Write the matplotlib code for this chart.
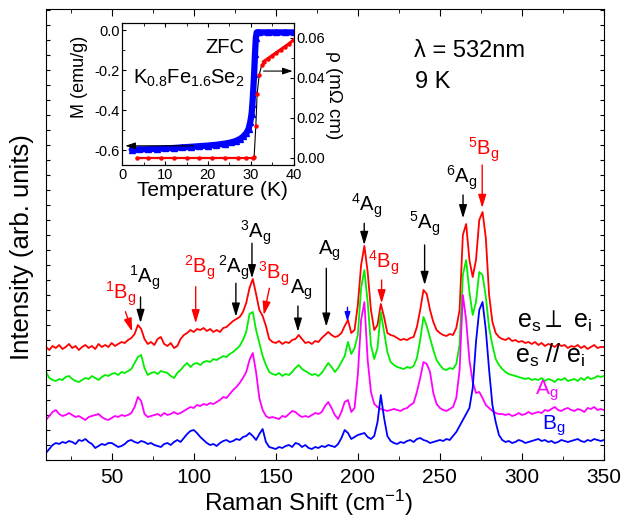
import numpy as np
import matplotlib
matplotlib.use("Agg")
import matplotlib.pyplot as plt
from matplotlib.ticker import MultipleLocator

plt.rcParams['font.family'] = ['Liberation Sans', 'DejaVu Sans']
plt.rcParams['mathtext.fontset'] = 'custom'
plt.rcParams['mathtext.rm'] = 'Liberation Sans'
plt.rcParams['mathtext.it'] = 'Liberation Sans'
plt.rcParams['mathtext.sf'] = 'DejaVu Sans'
plt.rcParams['mathtext.default'] = 'regular'
plt.rcParams['mathtext.fallback'] = 'stixsans'

# ---------------- main Raman spectra data ----------------
raman_shift = list(range(10, 351, 2))  # cm^-1

perp = [113, 110, 114, 112, 115, 111, 113, 116, 112, 114,
        110, 113, 115, 112, 114, 111, 116, 113, 115, 113,
        117, 114, 116, 118, 117, 120, 122, 126, 135, 131,
        121, 116, 118, 115, 121, 123, 116, 114, 117, 112,
        114, 121, 125, 127, 130, 128, 131, 130, 132, 129,
        131, 128, 130, 128, 132, 133, 136, 139, 141, 143,
        148, 157, 172, 181, 166, 150, 144, 134, 121, 118,
        117, 119, 116, 118, 117, 120, 121, 125, 121, 117,
        118, 116, 119, 118, 122, 125, 128, 125, 123, 124,
        127, 134, 140, 127, 130, 155, 195, 214, 188, 150,
        130, 135, 156, 143, 127, 125, 124, 122, 120, 121,
        120, 122, 123, 133, 150, 170, 166, 150, 138, 130,
        127, 125, 124, 126, 125, 132, 150, 225, 236, 200,
        183, 200, 240, 248, 222, 165, 138, 127, 123, 121,
        120, 122, 119, 120, 118, 119, 117, 118, 116, 118,
        115, 117, 114, 116, 115, 113, 116, 114, 115, 112,
        114, 113, 115, 112, 114, 111, 113, 115, 112, 113,
        113]

para = [88, 82, 80, 79, 81, 80, 83, 84, 81, 79,
        78, 80, 82, 81, 84, 82, 80, 83, 85, 84,
        86, 87, 85, 88, 87, 89, 91, 97, 103, 105,
        92, 85, 87, 88, 86, 89, 88, 87, 84, 82,
        87, 90, 94, 97, 93, 96, 97, 95, 98, 99,
        98, 101, 100, 102, 104, 103, 106, 108, 111, 114,
        120, 128, 146, 148, 130, 117, 104, 95, 88, 86,
        85, 87, 84, 86, 85, 88, 92, 95, 91, 89,
        87, 85, 86, 84, 87, 92, 97, 93, 88, 92,
        98, 104, 118, 106, 112, 125, 172, 190, 158, 115,
        101, 112, 148, 128, 108, 98, 95, 93, 92, 91,
        93, 92, 94, 102, 120, 143, 134, 122, 110, 100,
        95, 91, 90, 92, 91, 96, 115, 185, 200, 168,
        145, 158, 188, 185, 163, 132, 115, 101, 95, 91,
        88, 86, 85, 84, 83, 82, 81, 82, 80, 81,
        80, 82, 79, 81, 80, 78, 81, 80, 82, 79,
        80, 81, 79, 82, 80, 83, 81, 82, 84, 83,
        84]

ag = [40, 44, 48, 50, 46, 44, 45, 47, 45, 43,
      44, 42, 40, 43, 44, 45, 46, 43, 41, 40,
      42, 44, 43, 45, 44, 45, 47, 53, 63, 59,
      46, 43, 44, 45, 46, 44, 47, 45, 46, 48,
      46, 47, 49, 51, 53, 52, 55, 54, 56, 55,
      57, 56, 58, 60, 63, 62, 66, 70, 73, 77,
      82, 88, 100, 107, 88, 62, 50, 44, 42, 43,
      42, 41, 44, 43, 46, 49, 48, 45, 43, 44,
      43, 45, 47, 46, 48, 54, 58, 52, 45, 41,
      48, 58, 60, 48, 52, 85, 140, 158, 100, 68,
      56, 53, 51, 50, 49, 50, 51, 50, 49, 51,
      52, 55, 57, 68, 82, 98, 96, 88, 67, 56,
      52, 50, 49, 51, 53, 62, 90, 165, 140, 100,
      78, 67, 68, 62, 55, 52, 49, 47, 46, 46,
      45, 46, 44, 45, 47, 45, 46, 48, 46, 47,
      48, 47, 50, 49, 51, 53, 50, 49, 51, 52,
      50, 49, 51, 50, 48, 52, 51, 53, 50, 51,
      50]

bg = [7, 11, 15, 17, 16, 18, 17, 19, 18, 16,
      20, 19, 21, 18, 16, 12, 14, 16, 15, 17,
      17, 15, 13, 14, 16, 19, 20, 18, 17, 19,
      18, 16, 17, 15, 14, 13, 16, 17, 15, 18,
      20, 18, 22, 26, 29, 30, 27, 23, 20, 17,
      15, 16, 14, 17, 19, 20, 18, 19, 21, 20,
      23, 24, 27, 24, 20, 26, 31, 18, 13, 12,
      11, 13, 12, 14, 15, 13, 17, 16, 13, 15,
      12, 11, 13, 12, 14, 13, 15, 14, 13, 16,
      22, 30, 27, 21, 23, 25, 26, 27, 23, 21,
      24, 38, 65, 42, 24, 19, 17, 16, 18, 17,
      19, 20, 18, 21, 22, 20, 19, 17, 18, 19,
      20, 19, 21, 20, 24, 28, 34, 40, 46, 52,
      72, 118, 150, 158, 130, 90, 55, 38, 25, 20,
      18, 19, 17, 18, 20, 19, 17, 18, 19, 20,
      21, 19, 20, 18, 19, 17, 18, 20, 19, 18,
      19, 20, 21, 19, 18, 20, 19, 21, 20, 19,
      20]

# ---------------- inset data ----------------
T_M = [2.2, 4, 6, 8, 10, 12, 14, 16, 18, 20, 22, 24, 25.5, 26.5, 27.5, 28.3, 29,
       29.5, 29.9, 30.2, 30.4, 30.6, 30.8, 31.0, 31.2, 31.4, 32, 34, 36, 38, 40]
M = [-0.598, -0.597, -0.596, -0.594, -0.592, -0.590, -0.587, -0.584, -0.581,
     -0.578, -0.574, -0.568, -0.562, -0.555, -0.545, -0.532, -0.515, -0.495,
     -0.46, -0.42, -0.37, -0.30, -0.22, -0.12, -0.04, -0.012, -0.012, -0.012,
     -0.012, -0.012, -0.012]

T_rho = [3.4, 6, 9, 12, 15, 18, 21, 24, 27, 29, 30.5, 30.8, 31.2, 31.5, 32.0,
         32.6, 33.0, 34, 35, 36, 37, 38, 39, 40]
rho = [0, 0, 0, 0, 0, 0, 0, 0, 0, 0, 0, 0.0005, 0.016, 0.032, 0.0415, 0.0465,
       0.048, 0.0495, 0.051, 0.0525, 0.054, 0.0555, 0.057, 0.0588]

# ---------------- figure ----------------
W, H = 621, 519
fig = plt.figure(figsize=(W / 100, H / 100), dpi=100)
ax = fig.add_axes([46 / W, 1 - 460 / H, 558 / W, 450.7 / H])

x = np.array(raman_shift)
ax.plot(x, perp, color='#ff0000', lw=1.3)
ax.plot(x, para, color='#00ee00', lw=1.3)
ax.plot(x, ag, color='#ff00ff', lw=1.3)
ax.plot(x, bg, color='#0000ff', lw=1.3)

ax.set_xlim(10, 350)
ax.set_ylim(0, 450.7)
ax.xaxis.set_major_locator(MultipleLocator(50))
ax.xaxis.set_minor_locator(MultipleLocator(25))
ax.yaxis.set_major_locator(MultipleLocator(15))
ax.tick_params(axis='both', which='both', direction='in', top=True, right=True)
ax.tick_params(axis='x', which='major', length=5, labelsize=15, pad=6)
ax.tick_params(axis='x', which='minor', length=3)
ax.tick_params(axis='y', which='major', length=3, labelleft=False)
ax.set_xticks([50, 100, 150, 200, 250, 300, 350])

fig.text(309 / W, 1 - 503 / H, 'Raman Shift (cm$^{-1}$)', fontsize=17.5,
         ha='center', va='center')
fig.text(22 / W, 1 - 247 / H, 'Intensity (arb. units)', fontsize=18.5,
         ha='center', va='center', rotation=90)

# peak labels
labels = [
    ('$^{1}$B$_{g}$', 55.3, 160, 'red'),
    ('$^{1}$A$_{g}$', 70.3, 176.7, 'black'),
    ('$^{2}$B$_{g}$', 103.7, 186.7, 'red'),
    ('$^{2}$A$_{g}$', 124.5, 186.7, 'black'),
    ('$^{3}$A$_{g}$', 137.7, 221.7, 'black'),
    ('$^{3}$B$_{g}$', 148.7, 180, 'red'),
    ('A$_{g}$', 165.5, 166, 'black'),
    ('A$_{g}$', 182.7, 205, 'black'),
    ('$^{4}$A$_{g}$', 205.6, 248.3, 'black'),
    ('$^{4}$B$_{g}$', 216.0, 191.7, 'red'),
    ('$^{5}$A$_{g}$', 240.6, 230, 'black'),
    ('$^{6}$A$_{g}$', 263.5, 276.7, 'black'),
    ('$^{5}$B$_{g}$', 276.4, 304, 'red'),
]
for s, lx, ly, c in labels:
    ax.text(lx, ly, s, color=c, fontsize=14.5, ha='center', va='baseline')

arrows = [
    ((58.4, 148.3), (62.5, 128.3), 'red', 0.8),
    ((67.6, 163), (67.6, 137), 'black', 0.8),
    ((101.2, 173.3), (101.2, 136.7), 'red', 0.8),
    ((125.7, 176.7), (125.7, 143.3), 'black', 0.8),
    ((135.5, 216.7), (135.5, 181.7), 'black', 0.8),
    ((146.1, 171.7), (142.7, 145), 'red', 0.8),
    ((163.5, 154), (163.5, 128.3), 'black', 0.8),
    ((180.8, 191.7), (180.8, 133.3), 'black', 0.8),
    ((193.7, 152.7), (193.7, 138.3), 'blue', 0.55),
    ((203.9, 236.7), (203.9, 215), 'black', 0.8),
    ((214.5, 180), (214.5, 156.7), 'red', 0.8),
    ((240.7, 215), (240.7, 175), 'black', 0.8),
    ((264.1, 265), (264.1, 241.7), 'black', 0.8),
    ((275.8, 295), (275.8, 252), 'red', 0.8),
]
for (x0, y0), (x1, y1), c, hl in arrows:
    ax.annotate('', xy=(x1, y1), xytext=(x0, y0),
                arrowprops=dict(arrowstyle='-|>,head_length=%g,head_width=%g' % (hl, hl * 0.3),
                                color=c, lw=1.0, shrinkA=0, shrinkB=0,
                                mutation_scale=10))

ax.text(297.2, 132, r'e$_{s}$$\perp$ e$_{i}$', fontsize=18, color='black',
        ha='left', va='baseline')
ax.text(296, 97, 'e$_{s}$ // e$_{i}$', fontsize=18, color='black',
        ha='left', va='baseline')
ax.text(308.2, 65, 'A$_{g}$', fontsize=15, color='#ff00ff', ha='left', va='baseline')
ax.text(312.5, 30, 'B$_{g}$', fontsize=15, color='#0000ff', ha='left', va='baseline')

ax.text(234.5, 403, 'λ = 532nm', fontsize=17, ha='left', va='baseline')
ax.text(235, 372, '9 K', fontsize=17, ha='left', va='baseline')

# ---------------- inset ----------------
axi = fig.add_axes([122.3 / W, 1 - 165 / H, 171.2 / W, 141.7 / H])
axi.patch.set_alpha(0)
axr = axi.twinx()

axi.plot(T_M, M, color='#0000ff', lw=4.5, solid_capstyle='round')
axi.plot(T_M, M, '^', color='#0000ff', ms=4.0)
axi.set_xlim(0, 40)
axi.set_ylim(-0.675, 0.0335)
axi.xaxis.set_major_locator(MultipleLocator(10))
axi.xaxis.set_minor_locator(MultipleLocator(5))
axi.yaxis.set_minor_locator(MultipleLocator(0.1))
axi.set_yticks([0.0, -0.2, -0.4, -0.6])
axi.set_yticklabels(['0.0', '-0.2', '-0.4', '-0.6'])
axi.tick_params(axis='both', which='both', direction='in', top=True, labelsize=10.5, pad=2)
axi.tick_params(which='major', length=3)
axi.tick_params(which='minor', length=2)

T_rho_a = np.array(T_rho)
rho_a = np.array(rho)
axr.plot(T_rho_a, rho_a, color='black', lw=0.8)
low = T_rho_a <= 30.6
high = T_rho_a >= 32.9
axr.plot(T_rho_a[low], rho_a[low], color='red', lw=1.6)
axr.plot(T_rho_a[high], rho_a[high], color='red', lw=2.2)
axr.plot(T_rho_a, rho_a, 'o', color='red', ms=2.2)
axr.set_ylim(-0.0035, 0.0671)
axr.yaxis.set_minor_locator(MultipleLocator(0.01))
axr.set_yticks([0.0, 0.02, 0.04, 0.06])
axr.set_yticklabels(['0.00', '0.02', '0.04', '0.06'])
axr.tick_params(axis='y', which='both', direction='in', labelsize=10.5, pad=2)
axr.tick_params(which='major', length=3)
axr.tick_params(which='minor', length=2)

axi.annotate('', xy=(0.7, -0.579), xytext=(16.6, -0.579),
             arrowprops=dict(arrowstyle='-|>,head_length=0.6,head_width=0.2',
                             color='black', lw=0.8, shrinkA=0, shrinkB=0))
axr.annotate('', xy=(39.8, 0.0433), xytext=(33, 0.0433),
             arrowprops=dict(arrowstyle='-|>,head_length=0.6,head_width=0.2',
                             color='black', lw=0.8, shrinkA=0, shrinkB=0))

axi.text(19.3, -0.115, 'ZFC', fontsize=14.5, ha='left', va='baseline')
axi.text(2.5, -0.267, 'K$_{0.8}$Fe$_{1.6}$Se$_{2}$', fontsize=14.5, ha='left', va='baseline')

fig.text(212.5 / W, 1 - 190 / H, 'Temperature (K)', fontsize=15, ha='center', va='center')
fig.text(80 / W, 1 - 77 / H, 'M (emu/g)', fontsize=13, ha='center', va='center', rotation=90)
fig.text(334 / W, 1 - 95 / H, 'ρ (mΩ cm)', fontsize=13.5, ha='center', va='center', rotation=270)

fig.savefig('out.png', dpi=100)
